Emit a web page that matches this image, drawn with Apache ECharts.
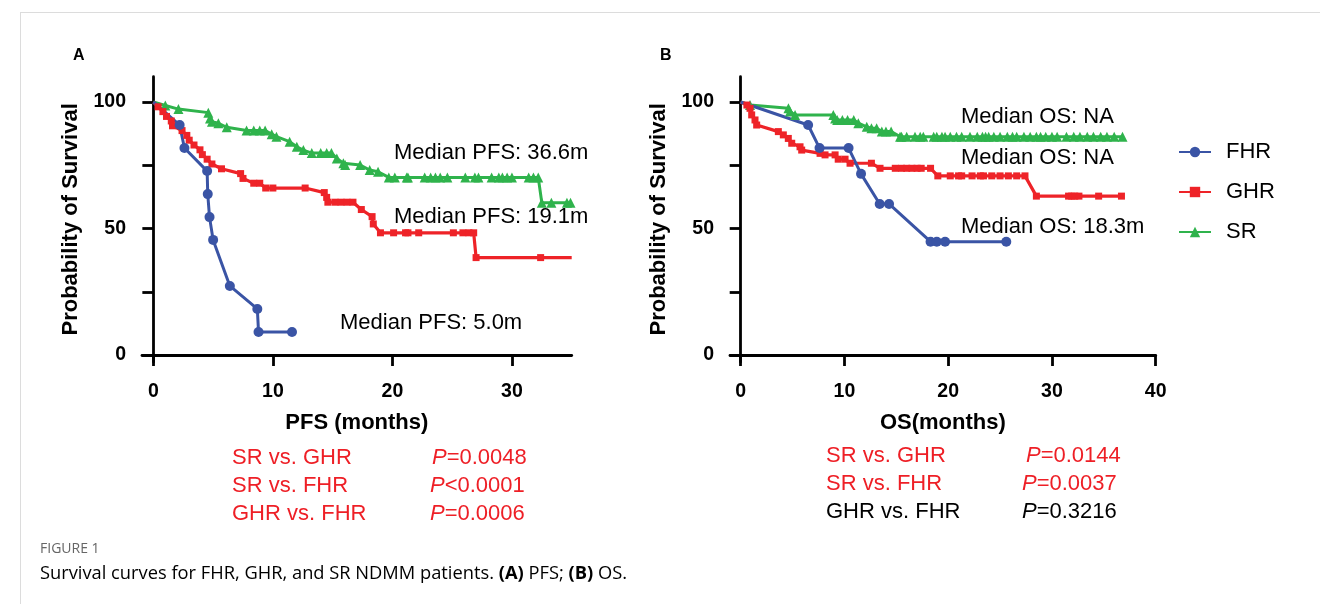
<!DOCTYPE html>
<html><head><meta charset="utf-8">
<script src="https://cdn.jsdelivr.net/npm/echarts@6/dist/echarts.min.js"></script>
<style>html,body{margin:0;padding:0;background:#fff}#c{width:1320px;height:604px}</style>
</head><body><div id="c"></div>
<script>
// ---------- data ----------
const groupNames = ['FHR', 'GHR', 'SR'];

// Panel A: PFS
const pfsFhrT = [0, 2.2, 2.6, 4.5, 4.55, 4.7, 5.0, 6.4, 8.7, 8.8, 11.6];
const pfsFhrS = [100, 90.9, 81.8, 72.7, 63.6, 54.5, 45.5, 27.3, 18.2, 9.1, 9.1];

const pfsGhrT = [0, 0.4, 0.8, 1.1, 1.5, 1.6, 2.4, 2.8, 3.0, 3.4, 3.9, 4.1, 4.5, 4.9, 5.7, 7.3, 7.5, 8.4, 8.9, 9.4, 10.0, 12.7, 14.3, 14.5, 14.6, 15.2, 15.7, 16.2, 16.7, 17.4, 18.3, 18.4, 19.0, 20.1, 21.1, 21.3, 22.2, 25.1, 25.9, 26.4, 26.8, 27.0, 32.4, 35.0];
const pfsGhrS = [100, 98.1, 96.2, 94.3, 92.5, 90.6, 88.7, 86.8, 84.9, 83.0, 81.1, 79.2, 77.4, 75.5, 73.6, 71.7, 69.8, 67.9, 67.9, 66.0, 66.0, 66.0, 64.2, 62.3, 60.4, 60.4, 60.4, 60.4, 60.4, 57.5, 54.7, 51.8, 48.3, 48.3, 48.3, 48.3, 48.3, 48.3, 48.3, 48.3, 48.3, 38.5, 38.5, 38.5];

const pfsSrT = [0, 1.0, 2.1, 4.6, 4.74, 4.9, 5.44, 6.14, 7.8, 8.4, 8.9, 9.35, 9.9, 10.3, 11.4, 12.0, 12.55, 13.25, 14.0, 14.5, 14.9, 15.35, 15.9, 16.05, 17.3, 18.1, 18.8, 19.7, 20.2, 21.2, 21.3, 22.7, 23.2, 23.6, 24.0, 24.6, 26.1, 26.9, 27.2, 28.3, 28.9, 29.2, 29.6, 30.0, 31.4, 31.8, 32.2, 32.5, 33.3, 34.6, 34.9];
const pfsSrS = [100, 98.6, 97.2, 95.8, 93.5, 92.2, 91.6, 90.0, 88.7, 88.7, 88.7, 88.7, 87.3, 86.3, 84.3, 82.3, 81.0, 79.8, 79.8, 79.8, 79.8, 77.7, 75.8, 75.1, 75.1, 73.1, 72.4, 70.2, 70.2, 70.2, 70.2, 70.2, 70.2, 70.2, 70.2, 70.2, 70.2, 70.2, 70.2, 70.2, 70.2, 70.2, 70.2, 70.2, 70.2, 70.2, 70.2, 60.2, 60.2, 60.2, 60.2];

// Panel B: OS
const osFhrT = [0, 6.5, 7.6, 10.4, 11.6, 13.4, 14.3, 18.3, 18.9, 19.7, 25.6];
const osFhrS = [100, 90.9, 81.8, 81.8, 71.6, 59.7, 59.7, 44.8, 44.8, 44.8, 44.8];

const osGhrT = [0, 0.6, 0.9, 1.06, 1.38, 1.54, 3.63, 4.11, 4.59, 4.92, 5.72, 5.88, 7.65, 8.13, 9.1, 9.4, 10.06, 10.54, 12.6, 13.43, 14.9, 15.5, 16.0, 16.5, 17.0, 17.4, 18.3, 19.0, 20.2, 21.0, 21.3, 22.3, 23.1, 23.4, 24.2, 25.0, 25.8, 26.6, 27.4, 28.5, 31.6, 31.9, 32.2, 32.6, 34.5, 36.7];
const osGhrS = [100, 98.8, 97.5, 94.9, 92.9, 90.9, 88.3, 87.0, 85.6, 83.7, 82.3, 81.0, 79.7, 79.1, 79.1, 77.4, 77.4, 75.8, 75.8, 73.8, 73.8, 73.8, 73.8, 73.8, 73.8, 73.8, 73.8, 70.8, 70.8, 70.8, 70.8, 70.8, 70.8, 70.8, 70.8, 70.8, 70.8, 70.8, 70.8, 62.8, 62.8, 62.8, 62.8, 62.8, 62.8, 62.8];

const osSrT = [0, 0.9, 4.6, 4.75, 5.24, 8.93, 9.1, 9.3, 9.8, 10.3, 10.9, 11.34, 12.15, 12.6, 13.1, 13.6, 14.0, 14.5, 15.36, 15.5, 16.0, 16.8, 17.3, 17.6, 18.6, 18.9, 19.4, 19.7, 20.2, 20.8, 21.3, 22.1, 22.8, 23.3, 23.6, 23.9, 24.4, 25.0, 25.7, 26.2, 26.6, 27.3, 27.9, 28.5, 28.9, 29.4, 30.0, 30.5, 31.4, 32.1, 32.7, 33.4, 34.0, 34.7, 35.3, 36.0, 36.8];
const osSrS = [100, 98.8, 97.5, 96.2, 94.9, 94.9, 93.5, 92.9, 92.9, 92.9, 92.9, 91.6, 90.2, 89.6, 89.6, 88.3, 88.3, 88.3, 86.3, 86.3, 86.3, 86.3, 86.3, 86.3, 86.3, 86.3, 86.3, 86.3, 86.3, 86.3, 86.3, 86.3, 86.3, 86.3, 86.3, 86.3, 86.3, 86.3, 86.3, 86.3, 86.3, 86.3, 86.3, 86.3, 86.3, 86.3, 86.3, 86.3, 86.3, 86.3, 86.3, 86.3, 86.3, 86.3, 86.3, 86.3, 86.3];

const yTicks = [0, 25, 50, 75, 100];
const yTickLabels = [0, 50, 100];
const pfsXTicks = [0, 10, 20, 30];
const osXTicks = [0, 10, 20, 30, 40];

const medianPfs = ['Median PFS: 36.6m', 'Median PFS: 19.1m', 'Median PFS: 5.0m'];
const medianOs = ['Median OS: NA', 'Median OS: NA', 'Median OS: 18.3m'];
const pfsCompare = ['SR vs. GHR', 'SR vs. FHR', 'GHR vs. FHR'];
const pfsP = ['=0.0048', '<0.0001', '=0.0006'];
const osCompare = ['SR vs. GHR', 'SR vs. FHR', 'GHR vs. FHR'];
const osP = ['=0.0144', '=0.0037', '=0.3216'];

// ---------- styling ----------
const COL = { FHR: '#3a54a5', GHR: '#ee2328', SR: '#2fb34c' };
const SYM = { FHR: 'circle', GHR: 'rect', SR: 'triangle' };
const SYMSIZE = { FHR: 10, GHR: 7, SR: 10 };
const LW = { FHR: 3, GHR: 3.2, SR: 3 };
const FONT = 'Liberation Sans, Arial, sans-serif';
const RED = '#ee1f26';

function pts(t, s, noEndSymbol) {
  return t.map((x, i) => {
    if (i === 0 || (noEndSymbol && i === t.length - 1)) return { value: [x, s[i]], symbol: 'none' };
    return [x, s[i]];
  });
}

function mkSeries(name, gi, t, s, noEnd) {
  return {
    type: 'line', name: name, xAxisIndex: gi, yAxisIndex: gi,
    data: pts(t, s, noEnd),
    symbol: SYM[name], symbolSize: SYMSIZE[name], showAllSymbol: true,
    color: COL[name],
    lineStyle: { width: LW[name], color: COL[name] },
    itemStyle: { color: COL[name] },
    animation: false, silent: true
  };
}

function xAxisDef(gi, min, max, ticks, name) {
  return {
    type: 'value', gridIndex: gi, min: min, max: max,
    name: name, nameLocation: 'middle', nameGap: 50,
    nameTextStyle: { fontFamily: FONT, fontWeight: 'bold', fontSize: 22, color: '#000' },
    axisLine: { show: true, onZero: true, lineStyle: { color: '#000', width: 2.8 } },
    axisTick: { show: true, length: 11, inside: false, customValues: ticks, lineStyle: { color: '#000', width: 2.8 } },
    axisLabel: { customValues: ticks, margin: 20, fontFamily: FONT, fontWeight: 'bold', fontSize: 19.5, color: '#000' },
    splitLine: { show: false }
  };
}
function yAxisDef(gi) {
  return {
    type: 'value', gridIndex: gi, min: -2.8, max: 110,
    name: 'Probability of Survival', nameLocation: 'middle', nameGap: 60,
    nameTextStyle: { fontFamily: FONT, fontWeight: 'bold', fontSize: 22, color: '#000' },
    axisLine: { show: true, onZero: true, lineStyle: { color: '#000', width: 2.8 } },
    axisTick: { show: true, length: 11, customValues: yTicks, lineStyle: { color: '#000', width: 2.8 } },
    axisLabel: { customValues: yTickLabels, margin: 16, fontFamily: FONT, fontWeight: 'bold', fontSize: 19.5, color: '#000' },
    splitLine: { show: false }
  };
}

function txt(x, y, text, opts) {
  return {
    type: 'text', x: x, y: y, silent: true,
    style: Object.assign({ text: text, font: '22px ' + FONT, fill: '#000', textVerticalAlign: 'middle', verticalAlign: 'middle' }, opts || {})
  };
}
function ptxt(x, y, rest, color) {
  return {
    type: 'text', x: x, y: y, silent: true,
    style: {
      text: '{i|P}{n|' + rest + '}', verticalAlign: 'middle',
      rich: {
        i: { fontFamily: FONT, fontSize: 22, fontStyle: 'italic', fill: color, color: color },
        n: { fontFamily: FONT, fontSize: 22, fill: color, color: color }
      }
    }
  };
}

const graphics = [
  { type: 'line', shape: { x1: 20, y1: 12.5, x2: 1320, y2: 12.5 }, style: { stroke: '#dcdcdc', lineWidth: 1 }, silent: true },
  { type: 'line', shape: { x1: 20.5, y1: 12, x2: 20.5, y2: 604 }, style: { stroke: '#dcdcdc', lineWidth: 1 }, silent: true },
  txt(73, 56, 'A', { font: 'bold 16px ' + FONT }),
  txt(660, 56, 'B', { font: 'bold 16px ' + FONT }),
  txt(394, 153, medianPfs[0]),
  txt(394, 217, medianPfs[1]),
  txt(340, 323, medianPfs[2]),
  txt(961, 117, medianOs[0]),
  txt(961, 158, medianOs[1]),
  txt(961, 227, medianOs[2]),
  txt(232, 458, pfsCompare[0], { fill: RED }),
  txt(232, 486, pfsCompare[1], { fill: RED }),
  txt(232, 514, pfsCompare[2], { fill: RED }),
  ptxt(432, 458, pfsP[0], RED),
  ptxt(430, 486, pfsP[1], RED),
  ptxt(430, 514, pfsP[2], RED),
  txt(826, 456, osCompare[0], { fill: RED }),
  txt(826, 484, osCompare[1], { fill: RED }),
  txt(826, 512, osCompare[2], { fill: '#000' }),
  ptxt(1026, 456, osP[0], RED),
  ptxt(1022, 484, osP[1], RED),
  ptxt(1022, 512, osP[2], '#000'),
  txt(40, 549, 'FIGURE 1', { font: '14px "Open Sans", sans-serif', fill: '#666' }),
  {
    type: 'text', x: 40, y: 574, silent: true,
    style: {
      text: '{n|Survival curves for FHR, GHR, and SR NDMM patients. }{b|(A)}{n| PFS; }{b|(B)}{n| OS.}',
      verticalAlign: 'middle',
      rich: {
        n: { fontFamily: 'Open Sans, sans-serif', fontSize: 18.3, color: '#6a6a6a' },
        b: { fontFamily: 'Open Sans, sans-serif', fontSize: 18.3, fontWeight: 'bold', color: '#6a6a6a' }
      }
    }
  }
];

const option = {
  backgroundColor: '#fff',
  animation: false,
  grid: [
    { left: 142, top: 76.7, width: 429.7, height: 285.4, containLabel: false },
    { left: 730, top: 76.7, width: 425.7, height: 285.4, containLabel: false }
  ],
  xAxis: [
    xAxisDef(0, -0.95, 35, pfsXTicks, 'PFS (months)'),
    xAxisDef(1, -1.03, 40, osXTicks, 'OS(months)')
  ],
  yAxis: [yAxisDef(0), yAxisDef(1)],
  legend: {
    orient: 'vertical', left: 1173, top: 136, itemGap: 18,
    itemWidth: 32, itemHeight: 13,
    data: groupNames,
    textStyle: { fontFamily: FONT, fontSize: 22, color: '#000', padding: [0, 0, 0, 10] },
    selectedMode: false
  },
  series: [
    mkSeries('SR', 0, pfsSrT, pfsSrS, false),
    mkSeries('GHR', 0, pfsGhrT, pfsGhrS, true),
    mkSeries('FHR', 0, pfsFhrT, pfsFhrS, false),
    mkSeries('SR', 1, osSrT, osSrS, false),
    mkSeries('GHR', 1, osGhrT, osGhrS, false),
    mkSeries('FHR', 1, osFhrT, osFhrS, false)
  ],
  graphic: graphics
};

const chart = echarts.init(document.getElementById('c'), null, { renderer: 'canvas' });
chart.setOption(option);
</script>
</body></html>
